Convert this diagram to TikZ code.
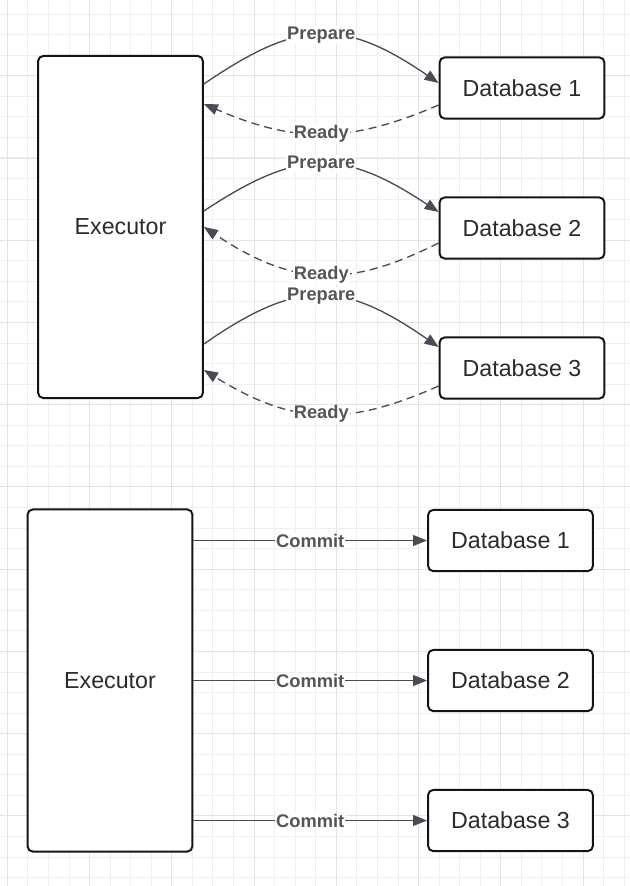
\documentclass[tikz,border=0pt]{standalone}
\usepackage{fontspec}
\setmainfont{Liberation Sans}
\usetikzlibrary{arrows.meta, positioning, calc}
\definecolor{ink}{HTML}{2B2B2B}
\definecolor{edge}{HTML}{474C55}
\definecolor{lblgray}{HTML}{555555}
\definecolor{gridln}{HTML}{EFEFEF}
\definecolor{gridmj}{HTML}{E3E3E3}

\begin{document}
\begin{tikzpicture}[
  x=0.025cm, y=-0.025cm,
  font=\fontsize{16.5}{19}\selectfont,
  box/.style={draw=black!92, line width=1.4pt, fill=white, rounded corners=1.3mm,
              text=ink, inner sep=0pt},
  exe/.style={box, minimum width=4.12cm, minimum height=8.55cm},
  db/.style={box, minimum width=4.12cm, minimum height=1.53cm},
  lbl/.style={font=\fontsize{13}{15}\selectfont\bfseries, text=lblgray,
              fill=white, inner sep=0.6pt},
  ar/.style={-{Triangle[length=3.5mm, width=2.7mm]}, draw=edge, line width=0.95pt},
  dar/.style={ar, dash pattern=on 2mm off 1.3mm},
  node distance=1.92cm]

\fill[white] (0,0) rectangle (630,886);
\useasboundingbox (0,0) rectangle (630,886);
\foreach \k in {0,...,30} \draw[gridln, line width=0.6pt] ({7.3+20.56*\k},0) -- ({7.3+20.56*\k},886);
\foreach \k in {0,...,42} \draw[gridln, line width=0.6pt] (0,{14+20.56*\k}) -- (630,{14+20.56*\k});
\foreach \k in {0,...,7} \draw[gridmj, line width=0.6pt] ({7.3+82.24*\k},0) -- ({7.3+82.24*\k},886);
\foreach \k in {0,...,10} \draw[gridmj, line width=0.6pt] (0,{75.7+82.24*\k}) -- (630,{75.7+82.24*\k});

\node[exe] (exec) at (120.5,227) {Executor};
\node[db] (db1) at (522,88) {Database 1};
\node[db, below=of db1] (db2) {Database 2};
\node[db, below=of db2] (db3) {Database 3};

\node[exe] (cexec) at (110,680.5) {Executor};
\node[db] (cdb1) at (510.5,540.5) {Database 1};
\node[db, below=of cdb1] (cdb2) {Database 2};
\node[db, below=of cdb2] (cdb3) {Database 3};

\draw[ar] ($(exec.north east)+(0,29)$) .. controls +(95,-65) and +(-95,-65) .. ($(db1.west)+(0,-5)$)
  node[lbl, midway] {Prepare};
\draw[dar] ($(db1.west)+(0,17)$) .. controls +(-90,39) and +(90,39) .. ($(exec.north east)+(0,49)$)
  node[lbl, midway] {Ready};
\draw[ar] ($(exec.north east)+(0,156)$) .. controls +(95,-63) and +(-95,-63) .. ($(db2.west)+(0,-16)$)
  node[lbl, midway] {Prepare};
\draw[dar] ($(db2.west)+(0,15)$) .. controls +(-90,45) and +(90,60) .. ($(exec.north east)+(0,172)$)
  node[lbl, midway] {Ready};
\draw[ar] ($(exec.north east)+(0,289)$) .. controls +(95,-66) and +(-95,-66) .. ($(db3.west)+(0,-21)$)
  node[lbl, midway] {Prepare};
\draw[dar] ($(db3.west)+(0,18)$) .. controls +(-90,40) and +(90,56) .. ($(exec.north east)+(0,315)$)
  node[lbl, midway] {Ready};

\draw[ar] (cexec.east |- cdb1) -- node[lbl] {Commit} (cdb1.west);
\draw[ar] (cexec.east |- cdb2) -- node[lbl] {Commit} (cdb2.west);
\draw[ar] (cexec.east |- cdb3) -- node[lbl] {Commit} (cdb3.west);
\end{tikzpicture}
\end{document}
